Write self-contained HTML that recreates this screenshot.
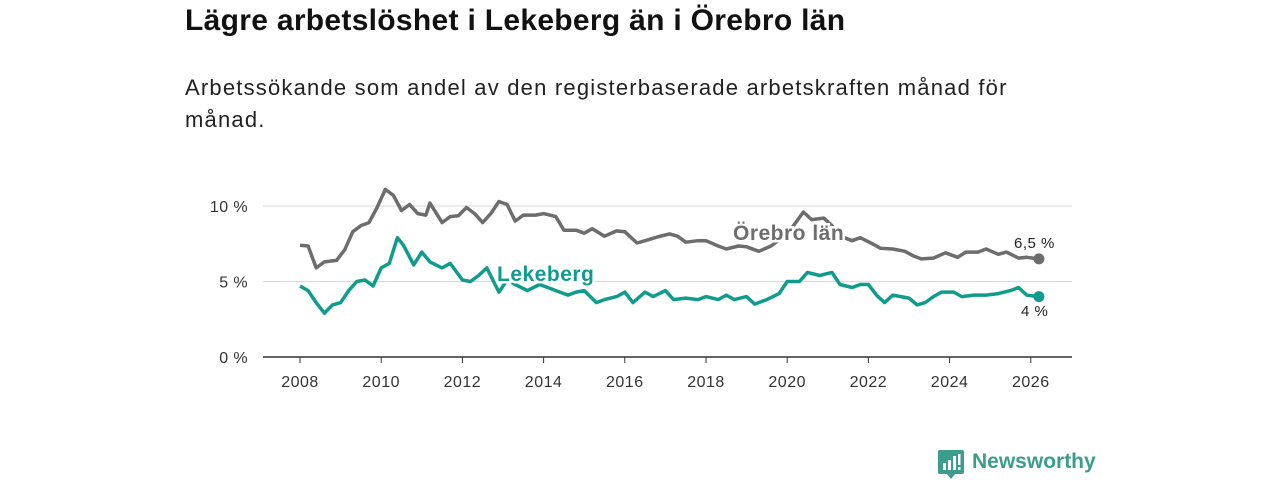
<!DOCTYPE html>
<html><head><meta charset="utf-8"><style>
body{margin:0;background:#fff;width:1280px;height:480px;overflow:hidden;font-family:"Liberation Sans","DejaVu Sans",sans-serif;}
h1{position:absolute;left:185px;top:4px;margin:0;font-size:30px;letter-spacing:0.3px;font-weight:bold;color:#111;white-space:nowrap;}
p.sub{position:absolute;left:185px;top:72px;margin:0;font-size:22px;letter-spacing:1.2px;line-height:32px;color:#222;width:860px;}
svg{position:absolute;left:0;top:0;}
</style></head><body>
<h1>Lägre arbetslöshet i Lekeberg än i Örebro län</h1>
<p class="sub">Arbetssökande som andel av den registerbaserade arbetskraften månad för månad.</p>
<svg id="chart" width="1280" height="480"></svg>
<script>
const yearsO=[2008,2008.2,2008.4,2008.6,2008.9,2009.1,2009.3,2009.5,2009.7,2009.9,2010.1,2010.3,2010.5,2010.7,2010.9,2011.1,2011.2,2011.5,2011.7,2011.9,2012.1,2012.3,2012.5,2012.7,2012.9,2013.1,2013.3,2013.5,2013.8,2014.0,2014.3,2014.5,2014.8,2015.0,2015.2,2015.5,2015.8,2016.0,2016.3,2016.5,2016.8,2017.1,2017.3,2017.5,2017.8,2018.0,2018.3,2018.5,2018.8,2019.0,2019.3,2019.6,2019.9,2020.1,2020.4,2020.6,2020.9,2021.1,2021.3,2021.6,2021.8,2022.1,2022.3,2022.6,2022.9,2023.1,2023.3,2023.6,2023.9,2024.2,2024.4,2024.7,2024.9,2025.2,2025.4,2025.7,2025.9,2026.2];
const valuesO=[7.4,7.35,5.9,6.3,6.4,7.1,8.3,8.7,8.9,9.9,11.1,10.7,9.7,10.1,9.5,9.4,10.2,8.9,9.3,9.35,9.9,9.5,8.9,9.5,10.3,10.1,9.0,9.4,9.4,9.5,9.3,8.4,8.4,8.2,8.5,8.0,8.35,8.3,7.55,7.7,7.95,8.15,8.0,7.6,7.7,7.7,7.35,7.15,7.35,7.3,7.0,7.35,7.95,8.5,9.6,9.1,9.2,8.7,8.0,7.7,7.9,7.5,7.2,7.15,7.0,6.7,6.5,6.55,6.9,6.6,6.95,6.95,7.15,6.8,6.95,6.55,6.6,6.5];
const yearsL=[2008,2008.2,2008.4,2008.6,2008.8,2009.0,2009.2,2009.4,2009.6,2009.8,2010.0,2010.2,2010.4,2010.55,2010.8,2011.0,2011.2,2011.5,2011.7,2012.0,2012.2,2012.4,2012.6,2012.9,2013.1,2013.3,2013.6,2013.9,2014.1,2014.3,2014.6,2014.8,2015.0,2015.3,2015.5,2015.8,2016.0,2016.2,2016.5,2016.7,2017.0,2017.2,2017.5,2017.8,2018.0,2018.3,2018.5,2018.7,2019.0,2019.2,2019.5,2019.8,2020.0,2020.3,2020.5,2020.8,2021.1,2021.3,2021.6,2021.8,2022.0,2022.2,2022.4,2022.6,2022.8,2023.0,2023.2,2023.4,2023.6,2023.8,2024.1,2024.3,2024.6,2024.9,2025.2,2025.5,2025.7,2025.9,2026.2];
const valuesL=[4.7,4.4,3.6,2.9,3.45,3.6,4.4,5.0,5.1,4.7,5.9,6.2,7.9,7.4,6.1,6.95,6.3,5.9,6.2,5.1,5.0,5.4,5.9,4.3,5.1,4.8,4.4,4.8,4.6,4.4,4.1,4.3,4.4,3.6,3.8,4.0,4.3,3.6,4.3,4.0,4.4,3.8,3.9,3.8,4.0,3.8,4.1,3.8,4.0,3.5,3.8,4.2,5.0,5.0,5.6,5.4,5.6,4.8,4.6,4.8,4.8,4.1,3.6,4.1,4.0,3.9,3.45,3.6,4.0,4.3,4.3,4.0,4.1,4.1,4.2,4.4,4.6,4.1,4.0];
const yTicks=[0,5,10];
const yTickLabels=["0 %","5 %","10 %"];
const xTicks=[2008,2010,2012,2014,2016,2018,2020,2022,2024,2026];
const endLabels=["6,5 %","4 %"];
const X=y=>300+(y-2008)*40.6;
const Y=v=>357-v*15.1;
const svg=document.getElementById('chart');
const NS='http://www.w3.org/2000/svg';
function mk(t,a){const e=document.createElementNS(NS,t);for(const k in a)e.setAttribute(k,a[k]);svg.appendChild(e);return e;}
yTicks.forEach((v,i)=>{
 if(v>0){const g=mk('line',{x1:263,x2:1072,y1:Y(v),y2:Y(v),stroke:'#d9d9d9','stroke-width':1});
 
 }
 const t=mk('text',{x:248,y:Y(v)+6,'text-anchor':'end','font-size':16,'letter-spacing':0.4,fill:'#333'});t.textContent=yTickLabels[i];
 
 
});
const ax=mk('line',{x1:263,x2:1072,y1:Y(0),y2:Y(0),stroke:'#333','stroke-width':1.5});


xTicks.forEach(y=>{
 const tk=mk('line',{x1:X(y),x2:X(y),y1:Y(0),y2:Y(0)+6,stroke:'#333'});
 
 
 const t=mk('text',{x:X(y),y:387,'text-anchor':'middle','font-size':16,'letter-spacing':0.5,fill:'#333'});t.textContent=y;
 
 
});
function line(ys,vs,col,name){
 const d=ys.map((y,i)=>(i?'L':'M')+X(y).toFixed(1)+','+Y(vs[i]).toFixed(1)).join('');
 const p=mk('path',{d:d,fill:'none',stroke:col,'stroke-width':3.5,'stroke-linejoin':'round'});
 
 
 const c=mk('circle',{cx:X(ys[ys.length-1]),cy:Y(vs[vs.length-1]),r:5.5,fill:col});
 
 
}
line(yearsO,valuesO,'#6d6d6d','orebro-line');
line(yearsL,valuesL,'#0f9c8c','lekeberg-line');
function lab(txt,x,y,col,name,bold,size){
 const t=mk('text',{x:x,y:y,'font-size':size,'font-weight':bold?'bold':'normal',fill:col,stroke:'#fff','stroke-width':bold?5:3,'paint-order':'stroke','letter-spacing':0.5});
 t.textContent=txt;
 
 
}
lab('Lekeberg',497,281,'#0f9c8c','lekeberg-label',true,21);
lab('Örebro län',733,240,'#6d6d6d','orebro-label',true,21);
lab(endLabels[0],1014,248,'#222','orebro-end-label',false,15);
lab(endLabels[1],1021,316,'#222','lekeberg-end-label',false,15);
</script>
<div style="position:absolute;left:938px;top:450px;height:30px;">
 <svg width="26" height="30" viewBox="0 0 26 30" style="position:absolute;left:0;top:0"><path d="M2 0h22a2 2 0 0 1 2 2v20a2 2 0 0 1-2 2H17l-4 5-4-5H2a2 2 0 0 1-2-2V2a2 2 0 0 1 2-2z" fill="#3c9d8c"/><rect x="5" y="13" width="3" height="7" fill="#fff"/><rect x="10" y="10" width="3" height="10" fill="#fff"/><rect x="15" y="6" width="3" height="14" fill="#fff"/><rect x="20" y="4" width="2.5" height="11" fill="#fff"/><rect x="20" y="17" width="2.5" height="3" fill="#fff"/></svg>
 <span style="position:absolute;left:34px;top:0;font-size:21px;font-weight:bold;color:#3c9d8c;white-space:nowrap;">Newsworthy</span>
</div>
</body></html>
